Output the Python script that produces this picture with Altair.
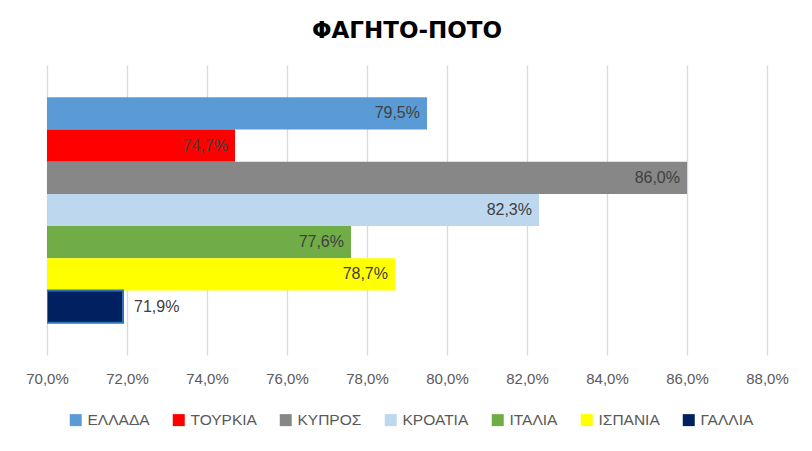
import altair as alt
import pandas as pd

countries = ["ΕΛΛΑΔΑ", "ΤΟΥΡΚΙΑ", "ΚΥΠΡΟΣ", "ΚΡΟΑΤΙΑ", "ΙΤΑΛΙΑ", "ΙΣΠΑΝΙΑ", "ΓΑΛΛΙΑ"]
values = [79.5, 74.7, 86.0, 82.3, 77.6, 78.7, 71.9]
colors = ["#5B9BD5", "#FF0000", "#878787", "#BDD7EE", "#70AD47", "#FFFF00", "#002060"]
ticks = [70, 72, 74, 76, 78, 80, 82, 84, 86, 88]

df = pd.DataFrame({"country": countries, "value": values})

FONT = "Liberation Sans"

y_enc = alt.Y("country:N", sort=countries, axis=None,
              scale=alt.Scale(paddingInner=0, paddingOuter=1))
x_scale = alt.Scale(domain=[70, 88], nice=False, zero=False)

bars = alt.Chart(df).mark_bar(clip=True).encode(
    x=alt.X("value:Q", scale=x_scale,
            axis=alt.Axis(values=ticks, title=None, domain=False, ticks=False,
                          grid=True, gridColor="#D9D9D9", gridWidth=1.3,
                          labelFlush=False,
                          labelExpr="replace(format(datum.value, '.1f'), '.', ',') + '%'",
                          labelFont=FONT, labelFontSize=15, labelColor="#595959",
                          labelPadding=16)),
    x2=alt.datum(70),
    y=y_enc,
    color=alt.Color("country:N", sort=countries,
                    scale=alt.Scale(domain=countries, range=colors),
                    legend=alt.Legend(title=None, orient="none", direction="horizontal",
                                      legendX=21, legendY=347,
                                      symbolType="square", symbolSize=144,
                                      symbolStrokeWidth=0,
                                      labelFont=FONT, labelFontSize=15.5, labelColor="#595959",
                                      labelOffset=4, columnPadding=21)),
    stroke=alt.condition(alt.datum.country == "ΓΑΛΛΙΑ", alt.value("#2E75B6"), alt.value(None)),
    strokeWidth=alt.condition(alt.datum.country == "ΓΑΛΛΙΑ", alt.value(2), alt.value(0)),
)

inside = alt.Chart(df).transform_filter(alt.datum.value >= 73).mark_text(
    align="right", baseline="middle", dx=-7, font=FONT, fontSize=16, color="#404040"
).encode(
    x=alt.X("value:Q", scale=x_scale),
    y=y_enc,
    text=alt.Text("label:N"),
).transform_calculate(label="replace(format(datum.value, '.1f'), '.', ',') + '%'")

outside = alt.Chart(df).transform_filter(alt.datum.value < 73).mark_text(
    align="left", baseline="middle", dx=11, font=FONT, fontSize=16, color="#404040"
).encode(
    x=alt.X("value:Q", scale=x_scale),
    y=y_enc,
    text=alt.Text("label:N"),
).transform_calculate(label="replace(format(datum.value, '.1f'), '.', ',') + '%'")

chart = alt.layer(bars, inside, outside).properties(
    width=720, height=290,
    title=alt.TitleParams("ΦΑΓΗΤΟ-ΠΟΤΟ", font="DejaVu Sans", fontSize=23,
                          fontWeight="bold", color="#000000", anchor="middle", offset=22),
    autosize=alt.AutoSizeParams(type="none"),
    padding={"left": 39, "top": 57, "right": 37, "bottom": 88},
).configure(background="#FFFFFF").configure_view(stroke=None)

chart.save("out.html", embed_options={"renderer": "svg", "actions": False})
